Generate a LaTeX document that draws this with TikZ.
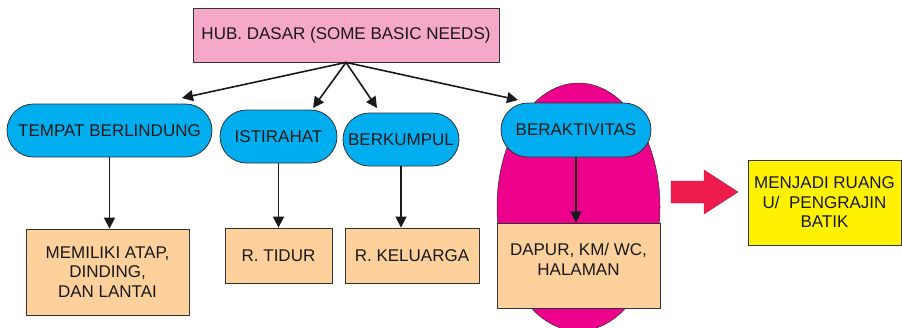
\documentclass[tikz,border=0pt]{standalone}
\usepackage{fontspec}
\setmainfont{Liberation Sans}
\usetikzlibrary{shapes.misc,arrows.meta}
\definecolor{hubpink}{HTML}{F5A8C8}
\definecolor{pillblue}{HTML}{00AEEF}
\definecolor{peach}{HTML}{FDD09C}
\definecolor{magentafill}{HTML}{EC008C}
\definecolor{redarrow}{HTML}{ED1C4C}
\definecolor{yellowfill}{HTML}{FFF200}
\definecolor{edge}{HTML}{333333}
\begin{document}
\begin{tikzpicture}[x=1pt,y=-1pt,
  txt/.style={font=\fontsize{17}{19.5}\selectfont, text=black!90, align=center},
  hubbox/.style={txt, draw=edge, line width=0.8pt, fill=hubpink, rectangle, inner sep=0pt},
  pill/.style={txt, draw=edge, line width=0.8pt, fill=pillblue, rounded rectangle, inner sep=0pt},
  leaf/.style={txt, draw=edge, line width=0.8pt, fill=peach, rectangle, inner sep=0pt},
  goal/.style={txt, draw=edge, line width=0.8pt, fill=yellowfill, rectangle, inner sep=0pt},
  arr/.style={draw=black!90, line width=1.6pt, -{Triangle[length=11pt,width=11pt]}}
]
\useasboundingbox (0,0) rectangle (902,327);

% magenta ellipse behind BERAKTIVITAS
\path[fill=magentafill, draw=edge, line width=0.5pt] (578.5,207) ellipse [x radius=81.5, y radius=124];

\node[hubbox, minimum width=306, minimum height=54] (hub) at (346,35) {HUB. DASAR (SOME BASIC NEEDS)};

\node[pill, minimum width=205, minimum height=53] (tempat) at (109.5,130.5) {TEMPAT BERLINDUNG};
\node[pill, minimum width=117, minimum height=53] (ist) at (278.5,136.5) {ISTIRAHAT};
\node[pill, minimum width=116, minimum height=53] (berk) at (401,139.5) {BERKUMPUL};
\node[pill, minimum width=150, minimum height=54] (berak) at (576,130) {BERAKTIVITAS};

\node[leaf, minimum width=163, minimum height=86] (atap) at (107.5,272) {MEMILIKI ATAP,\\DINDING,\\DAN LANTAI};
\node[leaf, minimum width=107, minimum height=55] (tidur) at (278.5,255.5) {R. TIDUR};
\node[leaf, minimum width=134, minimum height=55] (kel) at (412,255.5) {R. KELUARGA};
\node[leaf, minimum width=163, minimum height=85, text depth=12pt] (dapur) at (578.5,265.5) {DAPUR, KM/ WC,\\HALAMAN};

\node[goal, minimum width=153, minimum height=85] (goalbox) at (824.5,202.5) {MENJADI RUANG\\U/\ \ PENGRAJIN\\BATIK};

% big red arrow
\path[fill=redarrow, draw=redarrow!80!black, line width=0.4pt]
  (671,181) -- (704,181) -- (704,170) -- (738,192) -- (704,214) -- (704,203) -- (671,203) -- cycle;

% arrow end points just above the pills
\coordinate (tT) at (182,98);
\coordinate (tI) at (313,108);
\coordinate (tB) at (377,108);
\coordinate (tA) at (518,100);

\draw[arr] (hub.south) -- (tT);
\draw[arr] (hub.south) -- (tI);
\draw[arr] (hub.south) -- (tB);
\draw[arr] (hub.south) -- (tA);

\draw[arr] (tempat.south) -- (tempat.south |- atap.north);
\draw[arr] (ist.south) -- (ist.south |- tidur.north);
\draw[arr] (berk.south) -- (berk.south |- kel.north);
\draw[arr] (berak.south) -- (berak.south |- dapur.north);
\end{tikzpicture}
\end{document}
